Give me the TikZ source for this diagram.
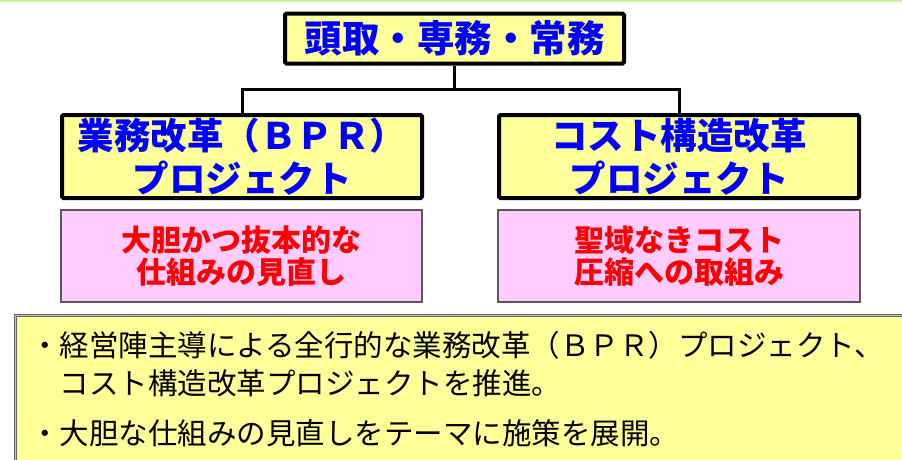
\documentclass[tikz,border=0pt]{standalone}
\usepackage{fontspec}
\setmainfont{Noto Sans CJK JP}
\definecolor{boxyellow}{HTML}{FFFF99}
\definecolor{boxpink}{HTML}{FFCCFF}
\definecolor{txtblue}{HTML}{0000FF}
\definecolor{txtred}{HTML}{FF0000}
\definecolor{topgreen}{HTML}{C8F0A0}
\tikzset{
  ybox/.style={draw=black, line width=4pt, fill=boxyellow, rounded corners=1.5pt,
    align=center, inner sep=0pt, text=txtblue, font=\bfseries},
  pbox/.style={draw=black!65, line width=1.8pt, fill=boxpink,
    align=center, inner sep=0pt, text=txtred, font=\bfseries\fontsize{30}{32}\selectfont},
  conn/.style={draw=black, line width=3pt},
  btxt/.style={anchor=west, inner sep=0pt, text=black, font=\fontsize{29.5}{30}\selectfont}
}
\begin{document}
\begin{tikzpicture}[x=1pt,y=-1pt]
\useasboundingbox (0,0) rectangle (902,459);
\fill[white] (0,0) rectangle (902,459);
% top green line
\fill[topgreen] (0,0) rectangle (902,1.5);

% top box
\node[ybox, minimum width=339pt, minimum height=50pt, font=\bfseries\fontsize{37.5}{40}\selectfont] (top) at (454.5,38.5) {頭取・専務・常務};

% project boxes
\node[ybox, minimum width=360pt, minimum height=83pt, font=\bfseries\fontsize{36.5}{43}\selectfont] (bpr) at (242,156.5) {業務改革（ＢＰＲ）\\プロジェクト};
\node[ybox, minimum width=360pt, minimum height=83pt, font=\bfseries\fontsize{36.5}{43}\selectfont] (cost) at (679,156.5) {コスト構造改革\\プロジェクト};

% pink boxes
\node[pbox, minimum width=361pt, minimum height=92pt] (bprnote) at (241.5,256) {大胆かつ抜本的な\\仕組みの見直し};
\node[pbox, minimum width=362pt, minimum height=92pt] (costnote) at (679,256) {聖域なきコスト\\圧縮への取組み};

% connectors
\coordinate (j) at (top.south |- 0,89);
\draw[conn] (top.south) -- (j);
\draw[conn] (bpr.north) |- (j) -| (cost.north);

% bottom summary box
\node[anchor=north west, draw=black!60, double=black!25, double distance=1pt, line width=0.8pt, fill=boxyellow, minimum width=900pt, minimum height=160pt, inner sep=0pt] (sum) at (15,315) {};
\node[btxt] (l1) at (30,345) {・経営陣主導による全行的な業務改革（ＢＰＲ）プロジェクト、};
\node[btxt] (l2) at (59.5,383) {コスト構造改革プロジェクトを推進。};
\node[btxt] (l3) at (30,433) {・大胆な仕組みの見直しをテーマに施策を展開。};
\end{tikzpicture}
\end{document}
